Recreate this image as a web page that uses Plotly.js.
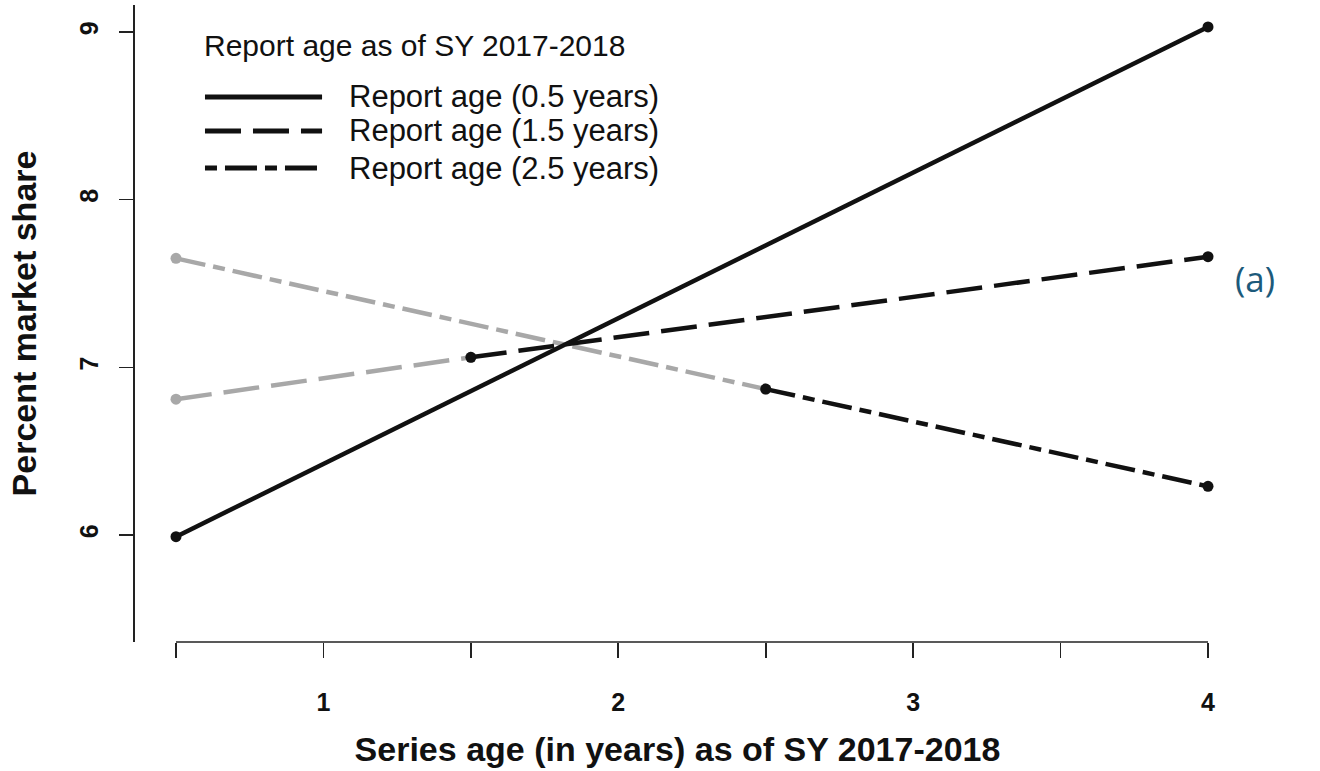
<!DOCTYPE html>
<html>
<head>
<meta charset="utf-8">
<script src="https://cdn.plot.ly/plotly-3.0.1.min.js"></script>
<style>
  html, body { margin: 0; padding: 0; background: #ffffff; }
  #chart { width: 1320px; height: 771px; }
</style>
</head>
<body>
<div id="chart"></div>
<script>
// Percent market share by series age, one line per report age.
// Grey part of a line = years before the report existed (extrapolated).

const ageSolid = [0.5, 4];
const shareSolid = [5.99, 9.03];

const ageDashed = [0.5, 1.5, 4];
const shareDashed = [6.81, 7.06, 7.66];

const ageDotDash = [0.5, 2.5, 4];
const shareDotDash = [7.65, 6.87, 6.29];

const legendTitle = 'Report age as of SY 2017-2018';
const reportLabels = ['Report age (0.5 years)', 'Report age (1.5 years)', 'Report age (2.5 years)'];

const xTickVals = [0.5, 1, 1.5, 2, 2.5, 3, 3.5, 4];
const xTickText = ['', '1', '', '2', '', '3', '', '4'];
const yTickVals = [6, 7, 8, 9];

const FONT = "'Liberation Sans', Arial, sans-serif";
const BLACK = '#111111';
const GREY = '#a8a8a8';
const LW = 4.5;
const DASH_LONG = '36px,12px';
const DASH_DOTDASH = '30px,8px,12px,8px';
const DASH_DOTDASH_KEY = '12px,8px,32px,8px';

function seg(x, y, color, dash) {
  return {
    type: 'scatter', mode: 'lines+markers', x: x, y: y,
    line: { color: color, width: LW, dash: dash },
    marker: { color: color, size: 11 },
    showlegend: false, hoverinfo: 'skip'
  };
}

const traces = [
  seg(ageDashed.slice(0, 2), shareDashed.slice(0, 2), GREY, DASH_LONG),
  seg(ageDotDash.slice(0, 2), shareDotDash.slice(0, 2), GREY, DASH_DOTDASH),
  seg(ageSolid, shareSolid, BLACK, 'solid'),
  seg(ageDashed.slice(1), shareDashed.slice(1), BLACK, DASH_LONG),
  seg(ageDotDash.slice(1), shareDotDash.slice(1), BLACK, DASH_DOTDASH)
];

// hand-drawn legend block in the upper left of the panel
const keyX0 = 0.0645, keyX1 = 0.1724, textX = 0.1954;
const rowY = [0.8556, 0.8022, 0.7441];
const keyDash = ['solid', DASH_LONG, DASH_DOTDASH_KEY];

const shapes = [
  // x axis line spans the first to the last tick only
  { type: 'line', xref: 'x', yref: 'paper', x0: xTickVals[0], x1: xTickVals[xTickVals.length - 1],
    y0: 0, y1: 0, line: { color: '#222222', width: 1.6 } }
];
const annotations = [
  { xref: 'paper', yref: 'paper', x: 0.0618, y: 0.9372, xanchor: 'left', yanchor: 'middle',
    showarrow: false, text: legendTitle,
    font: { family: FONT, size: 30, color: '#111111' } },
  { xref: 'paper', yref: 'paper', x: 1.0323, y: 0.5714, xanchor: 'center', yanchor: 'middle',
    showarrow: false, text: '(a)',
    font: { family: "'Open Sans', 'Noto Sans', sans-serif", size: 35, color: '#1c5a7b' } }
];
reportLabels.forEach(function (label, i) {
  shapes.push({ type: 'line', xref: 'paper', yref: 'paper', x0: keyX0, x1: keyX1,
    y0: rowY[i], y1: rowY[i], line: { color: BLACK, width: 5, dash: keyDash[i] } });
  annotations.push({ xref: 'paper', yref: 'paper', x: textX, y: rowY[i],
    xanchor: 'left', yanchor: 'middle', showarrow: false, text: label,
    font: { family: FONT, size: 31, color: '#111111' } });
});

const layout = {
  width: 1320, height: 771,
  margin: { l: 135, r: 100, t: 5, b: 129 },
  paper_bgcolor: '#ffffff', plot_bgcolor: '#ffffff',
  showlegend: false,
  font: { family: FONT, color: '#111111' },
  xaxis: {
    range: [0.36095, 4.0407], showgrid: false, zeroline: false, showline: false,
    tickmode: 'array', tickvals: xTickVals, ticktext: xTickText,
    ticks: 'outside', ticklen: 15, tickwidth: 1.6, tickcolor: '#222222',
    ticklabelstandoff: 23,
    tickfont: { family: FONT, size: 25, color: '#111111', weight: 'bold' },
    title: { text: '<b>Series age (in years) as of SY 2017-2018</b>', standoff: 22,
      font: { family: FONT, size: 34, color: '#111111' } },
    automargin: false
  },
  yaxis: {
    range: [5.3618, 9.161], showgrid: false, zeroline: false,
    showline: true, linecolor: '#222222', linewidth: 1.6,
    tickmode: 'array', tickvals: yTickVals,
    ticks: 'outside', ticklen: 14, tickwidth: 1.6, tickcolor: '#222222',
    tickangle: -90, ticklabelstandoff: 11,
    tickfont: { family: FONT, size: 25, color: '#111111', weight: 'bold' },
    title: { text: '<b>Percent market share</b>', standoff: 28,
      font: { family: FONT, size: 34, color: '#111111' } },
    automargin: false
  },
  shapes: shapes,
  annotations: annotations
};

Plotly.newPlot('chart', traces, layout, { displayModeBar: false, staticPlot: true });
</script>
</body>
</html>
